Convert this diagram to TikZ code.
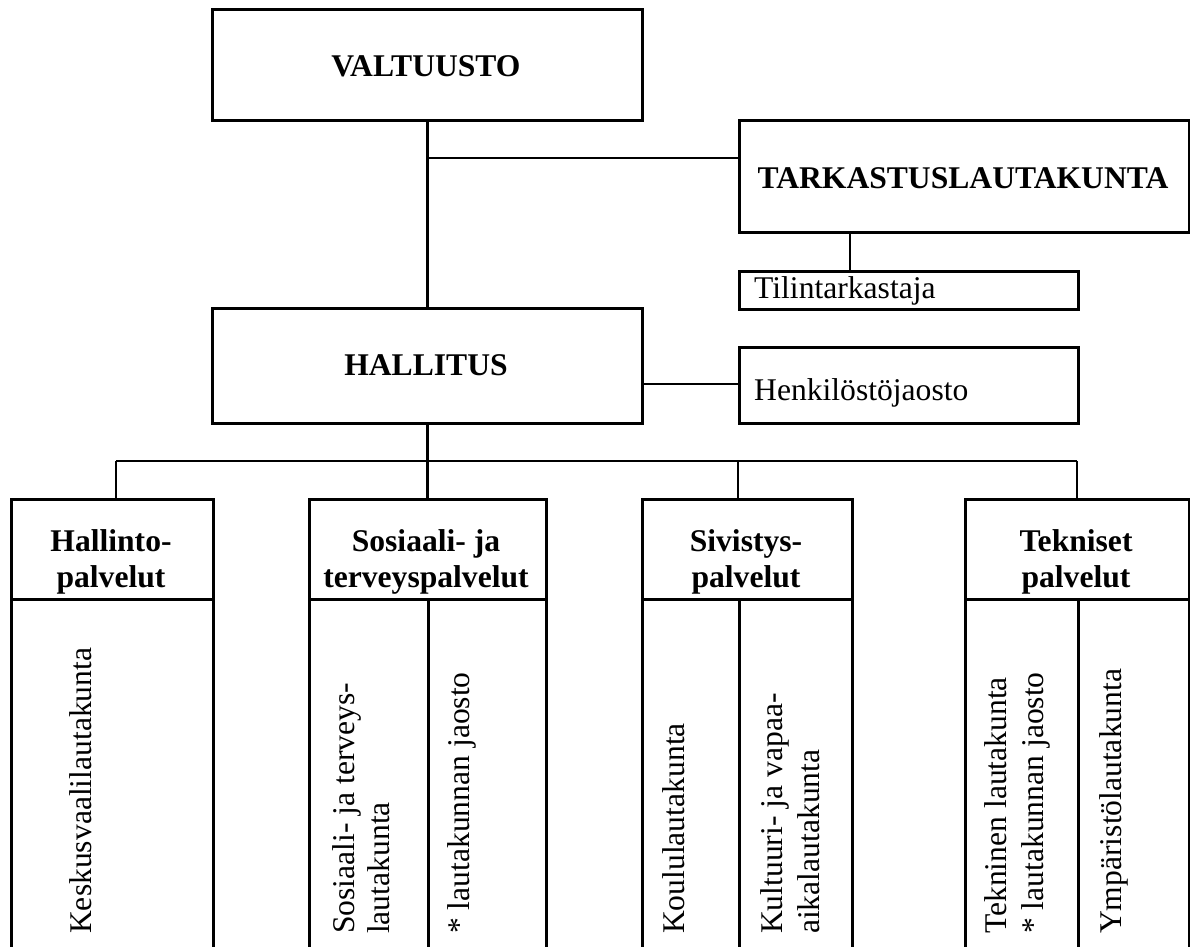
\documentclass[tikz,border=0pt]{standalone}
\usepackage{fontspec}
\setmainfont{Liberation Serif}
\begin{document}
\begin{tikzpicture}[x=1pt,y=-1pt,
  box/.style={draw, line width=2.6pt, inner sep=0pt, anchor=north west},
  conn/.style={line width=2.4pt},
  bigtxt/.style={font=\fontsize{31.6}{36.3}\selectfont\bfseries, inner sep=0pt, anchor=base},
  txt/.style={font=\fontsize{31.6}{36.3}\selectfont, inner sep=0pt, anchor=base west},
  vtxt/.style={font=\fontsize{31.6}{36.3}\selectfont, inner sep=0pt, anchor=base west, rotate=90}]
\useasboundingbox (0,0) rectangle (1190,946);
\clip (0,0) rectangle (1190,946);
% boxes
\node[box, minimum width=430pt, minimum height=111pt] (valt) at (211,8) {};
\node[box, minimum width=450pt, minimum height=112pt] (tark) at (738,119) {};
\node[box, minimum width=339pt, minimum height=38pt] (tilin) at (738,270) {};
\node[box, minimum width=430pt, minimum height=115pt] (hall) at (211,307) {};
\node[box, minimum width=339pt, minimum height=76pt] (henk) at (738,346) {};
\node[box, minimum width=202pt, minimum height=100pt] (hallh) at (10,498) {};
\node[box, minimum width=202pt, minimum height=380pt] (hallb) at (10,598) {};
\node[box, minimum width=237pt, minimum height=100pt] (sosh) at (308,498) {};
\node[box, minimum width=119pt, minimum height=380pt] (sosb1) at (308,598) {};
\node[box, minimum width=118pt, minimum height=380pt] (sosb2) at (427,598) {};
\node[box, minimum width=210pt, minimum height=100pt] (sivh) at (641,498) {};
\node[box, minimum width=97pt, minimum height=380pt] (sivb1) at (641,598) {};
\node[box, minimum width=113pt, minimum height=380pt] (sivb2) at (738,598) {};
\node[box, minimum width=224pt, minimum height=100pt] (tekh) at (964,498) {};
\node[box, minimum width=113pt, minimum height=380pt] (tekb1) at (964,598) {};
\node[box, minimum width=111pt, minimum height=380pt] (tekb2) at (1077,598) {};
% texts
\node[bigtxt] (tvalt) at (426,76) {VALTUUSTO};
\node[bigtxt] (ttark) at (963,188) {TARKASTUSLAUTAKUNTA};
\node[bigtxt] (thall) at (426,375) {HALLITUS};
\node[txt] (ttilin) at (754,298) {Tilintarkastaja};
\node[txt] (thenk) at (754,400) {Henkilöstöjaosto};
\node[bigtxt] (th1a) at (111,551) {Hallinto-};
\node[bigtxt] (th1b) at (111,587) {palvelut};
\node[bigtxt] (th2a) at (426,551) {Sosiaali- ja};
\node[bigtxt] (th2b) at (426,587) {terveyspalvelut};
\node[bigtxt] (th3a) at (746,551) {Sivistys-};
\node[bigtxt] (th3b) at (746,587) {palvelut};
\node[bigtxt] (th4a) at (1076,551) {Tekniset};
\node[bigtxt] (th4b) at (1076,587) {palvelut};
% vertical texts
\node[vtxt] (v1) at (91,934) {Keskusvaalilautakunta};
\node[vtxt] (v2a) at (354,934) {Sosiaali- ja terveys-};
\node[vtxt] (v2b) at (389,934) {lautakunta};
\node[vtxt] (v3) at (469,934) {* lautakunnan jaosto};
\node[vtxt] (v4) at (684,934) {Koululautakunta};
\node[vtxt] (v5a) at (782,934) {Kultuuri- ja vapaa-};
\node[vtxt] (v5b) at (819,934) {aikalautakunta};
\node[vtxt] (v6a) at (1006,934) {Tekninen lautakunta};
\node[vtxt] (v6b) at (1043,934) {* lautakunnan jaosto};
\node[vtxt] (v7) at (1121,934) {Ympäristölautakunta};
% connectors
\draw[conn] (valt.south) -- (hall.north);
\coordinate (j1) at (426,158);
\draw[conn] (j1) -- (j1 -| tark.west);
\coordinate (tx) at (850,0);
\draw[conn] (tx |- tark.south) -- (tx |- tilin.north);
\coordinate (hy) at (0,384);
\draw[conn] (hy -| hall.east) -- (hy -| henk.west);
\draw[conn] (hall.south) -- (hall.south |- sosh.north);
\coordinate (bl) at (116,461);
\coordinate (bs) at (738,461);
\coordinate (br) at (1077,461);
\draw[conn] (bl) -- (br);
\draw[conn] (bl) -- (bl |- hallh.north);
\draw[conn] (bs) -- (bs |- sivh.north);
\draw[conn] (br) -- (br |- tekh.north);
\end{tikzpicture}
\end{document}
